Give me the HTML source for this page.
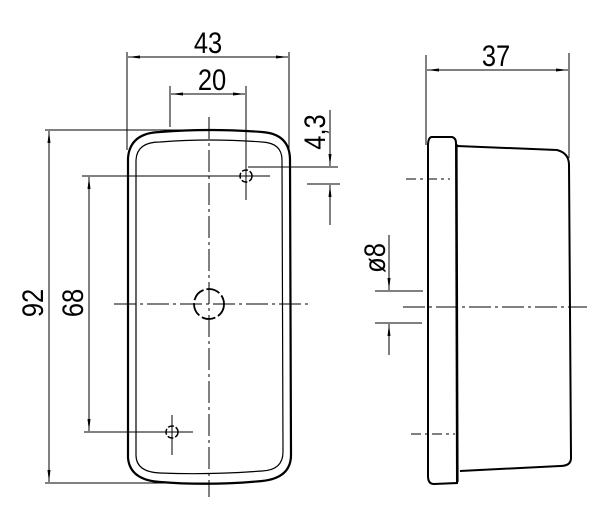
<!DOCTYPE html>
<html><head><style>body{margin:0;background:#fff}svg{display:block}</style></head><body>
<svg width="600" height="509" viewBox="0 0 600 509" xmlns="http://www.w3.org/2000/svg" font-family="Liberation Sans Narrow, Liberation Sans, sans-serif">
<defs><marker id="a" markerWidth="12" markerHeight="6" refX="12" refY="3" orient="auto" markerUnits="userSpaceOnUse"><path d="M0,1.5 L12,3 L0,4.5z" fill="#000"/></marker></defs>
<g stroke="#000" fill="none">
<path d="M128,458 L128,158 Q130,133 160,132 Q209,128 262,132 Q290,134 290,160 L291,455 Q291,478 262,481 Q209,486 160,482 Q130,480 128,458z" stroke-width="2.2"/>
<path d="M136,455 L136,160 Q137,142 160,142 Q209,138 262,142 Q282,143 282,160 L283,452 Q283,470 262,471 Q209,475 160,473 Q136,472 136,455z" stroke-width="1.2"/>
<g stroke-width="1" stroke-dasharray="22,4,3,4">
<line x1="209" y1="117" x2="209" y2="497"/>
<line x1="114" y1="304" x2="311" y2="304"/>
</g>
<circle cx="209" cy="304" r="15" stroke-width="1.8" stroke-dasharray="14,3"/>
<circle cx="246" cy="176" r="6" stroke-width="1.5" stroke-dasharray="6,2"/>
<circle cx="172" cy="432" r="6" stroke-width="1.5" stroke-dasharray="6,2"/>
<g stroke-width="1">
<line x1="246" y1="86" x2="246" y2="200"/><line x1="82" y1="176" x2="270" y2="176"/>
<line x1="172" y1="415" x2="172" y2="455"/><line x1="84" y1="432" x2="193" y2="432"/>
<line x1="127" y1="52" x2="127" y2="150"/><line x1="289" y1="52" x2="289" y2="150"/>
<line x1="170" y1="86" x2="170" y2="127"/>
<line x1="45" y1="130" x2="190" y2="130"/><line x1="45" y1="483" x2="210" y2="483"/>
<line x1="248" y1="167" x2="338" y2="167"/><line x1="307" y1="184" x2="340" y2="184"/>
<line x1="168" y1="57" x2="128" y2="57" marker-end="url(#a)"/><line x1="168" y1="57" x2="288" y2="57" marker-end="url(#a)"/>
<line x1="208" y1="94" x2="171" y2="94" marker-end="url(#a)"/><line x1="208" y1="94" x2="245" y2="94" marker-end="url(#a)"/>
<line x1="49" y1="300" x2="49" y2="131" marker-end="url(#a)"/><line x1="49" y1="300" x2="49" y2="482" marker-end="url(#a)"/>
<line x1="89" y1="300" x2="89" y2="177" marker-end="url(#a)"/><line x1="89" y1="300" x2="89" y2="431" marker-end="url(#a)"/>
<line x1="330" y1="110" x2="330" y2="166" marker-end="url(#a)"/><line x1="330" y1="225" x2="330" y2="185" marker-end="url(#a)"/>
</g>
<path d="M432,137 L452,137 Q456,138 456,143 L457,483 L434,484 Q428,484 428,476 L428,146 Q428,137 432,137z" stroke-width="2"/>
<line x1="457" y1="144" x2="458" y2="482" stroke-width="1.2"/>
<path d="M457,146 L557,150 Q569,153 569,165 L571,458 Q571,466 560,466 L460,471" stroke-width="2"/>
<g stroke-width="1" stroke-dasharray="22,4,3,4">
<line x1="403" y1="307" x2="587" y2="307"/>
</g>
<g stroke-width="1" stroke-dasharray="10,4,3,4">
<line x1="406" y1="179" x2="450" y2="179"/><line x1="411" y1="434" x2="455" y2="434"/>
</g>
<g stroke-width="1">
<line x1="426" y1="55" x2="426" y2="145"/><line x1="569" y1="53" x2="569" y2="158"/>
<line x1="497" y1="70" x2="427" y2="70" marker-end="url(#a)"/><line x1="497" y1="70" x2="568" y2="70" marker-end="url(#a)"/>
<line x1="375" y1="291" x2="423" y2="291"/><line x1="375" y1="323" x2="422" y2="323"/>
<line x1="389" y1="235" x2="389" y2="290" marker-end="url(#a)"/><line x1="389" y1="355" x2="389" y2="324" marker-end="url(#a)"/>
</g>
</g>
<g font-size="30" fill="#000" text-anchor="middle">
<text transform="translate(208,53) scale(0.85,1)">43</text>
<text transform="translate(212,90) scale(0.85,1)">20</text>
<text transform="translate(496,66) scale(0.85,1)">37</text>
<text transform="translate(43,303) rotate(-90) scale(0.85,1)">92</text>
<text transform="translate(83,303) rotate(-90) scale(0.85,1)">68</text>
<text transform="translate(325,132) rotate(-90) scale(0.85,1)">4,3</text>
<text transform="translate(385,258) rotate(-90) scale(0.85,1)">ø8</text>
</g>
</svg>
</body></html>
